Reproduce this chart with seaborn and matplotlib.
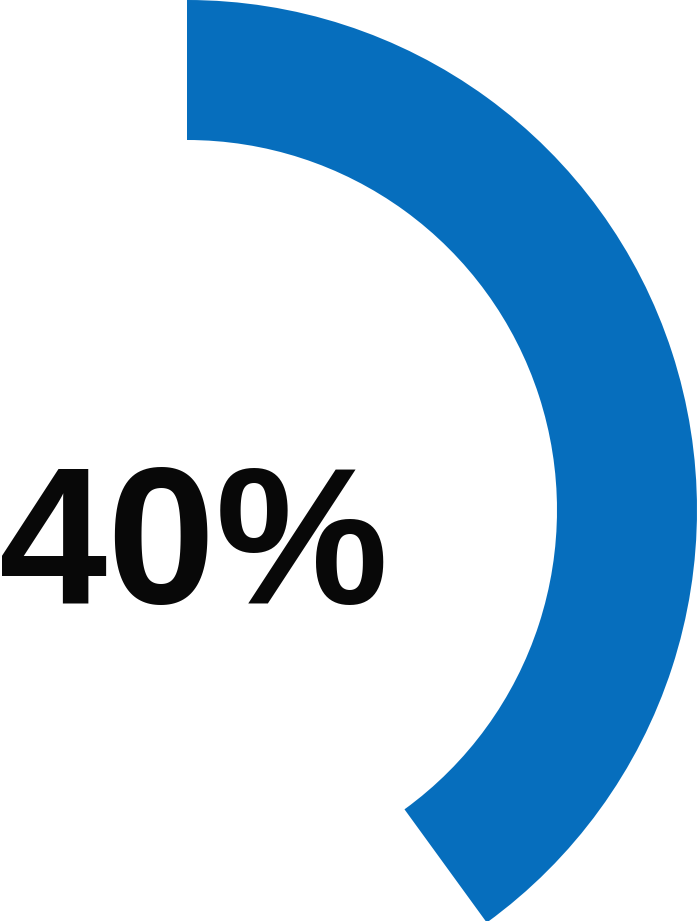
import matplotlib
matplotlib.use("Agg")
import matplotlib.pyplot as plt
import seaborn as sns

sns.set_style("white")

# data
share = 40
parts = [share, 100 - share]
label = f"{share}%"
ring_color = "#066EBD"

fig = plt.figure(figsize=(6.97, 9.21), dpi=100)
ax = fig.add_axes([0, 0, 1, 1])

# ring: starts at 12 o'clock and runs clockwise
ax.pie(parts, colors=[ring_color, "none"], startangle=90, counterclock=False,
       center=(187, 411), radius=510, wedgeprops=dict(width=140, linewidth=0),
       frame=True)

ax.text(194, 318, label, ha="center", va="baseline",
        fontsize=140, fontweight="bold", color="#080808",
        family=["Liberation Sans", "DejaVu Sans"])

ax.set_xlim(0, 697)
ax.set_ylim(0, 921)
ax.set_aspect("equal")
ax.axis("off")

fig.savefig("out.png", dpi=100)
plt.close()
